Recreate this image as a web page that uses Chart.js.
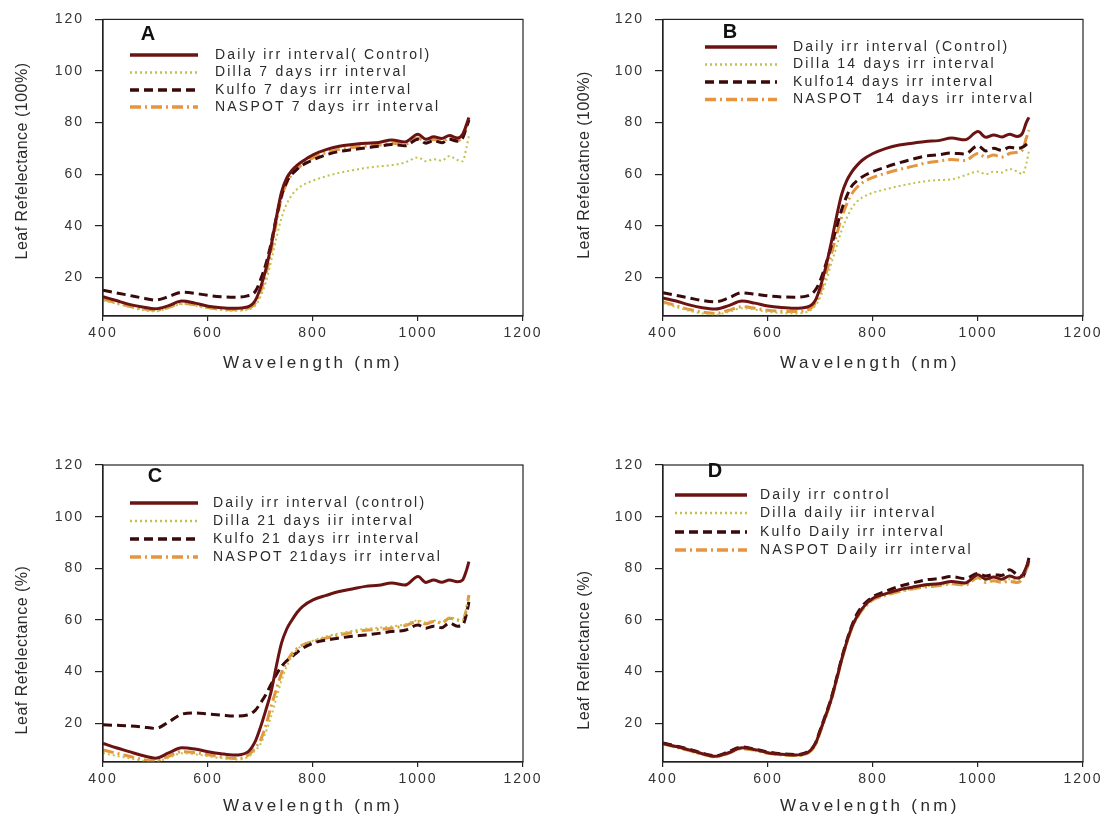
<!DOCTYPE html>
<html>
<head>
<meta charset="utf-8">
<title>Leaf reflectance spectra</title>
<script src="https://cdn.jsdelivr.net/npm/chart.js@4.4.1/dist/chart.umd.min.js"></script>
<style>
  body { margin: 0; background: #fff; }
  #fig { position: relative; width: 1113px; height: 818px; overflow: hidden; background: #fff; }
  #fig canvas { position: absolute; }
</style>
</head>
<body>
<div id="fig">
  <canvas id="chartA" width="556" height="400" style="left:0;top:0"></canvas>
  <canvas id="chartB" width="557" height="400" style="left:556px;top:0"></canvas>
  <canvas id="chartC" width="556" height="378" style="left:0;top:440px"></canvas>
  <canvas id="chartD" width="557" height="378" style="left:556px;top:440px"></canvas>
</div>
<script>
const FONT = '"Liberation Sans", Arial, sans-serif';

// wavelength grid (nm) shared by every spectrum
const wavelengths = [400, 425, 450, 475, 500, 525, 550, 575, 600, 625, 650, 675, 690, 700, 710, 720, 730, 740, 750, 760,
  770, 780, 800, 825, 850, 875, 900, 925, 950, 975, 1000, 1015, 1030, 1045, 1060, 1075, 1085, 1092, 1097];

const xTicks = [400, 600, 800, 1000, 1200];
const yTicks = [20, 40, 60, 80, 100, 120];

// A - 7 days irrigation interval
const labelsA = ['Daily irr interval( Control)', 'Dilla 7 days irr interval', 'Kulfo 7 days irr interval', 'NASPOT 7 days irr interval'];
const controlA = [12.5, 11, 9.5, 8.5, 7.8, 9, 10.8, 10, 8.8, 8.2, 8, 8.5, 11, 16, 23, 32, 43, 53, 58.5, 61.5,
  63.5, 65, 67.5, 69.5, 70.8, 71.5, 72, 72.3, 73.2, 72.5, 75.5, 73.5, 74.5, 73.8, 75, 74, 75.5, 79, 82];
const dillaA = [11, 9.8, 8.5, 7.3, 6.8, 8, 9.6, 9, 8, 7.3, 7, 7.4, 9, 12.5, 18, 26, 35, 43, 48.5, 52,
  54.2, 55.7, 57.5, 59.2, 60.5, 61.5, 62.4, 63, 63.5, 64.5, 66.5, 65, 65.8, 65.2, 67, 65.5, 65, 70, 75];
const kulfoA = [15, 14, 13, 12, 11.2, 12.5, 14.2, 13.8, 13, 12.5, 12.3, 12.8, 14.5, 19, 25, 33, 43, 51.5, 57, 60,
  62, 63.5, 65.5, 67.5, 68.8, 69.5, 70.2, 70.8, 71.5, 71, 73.5, 72, 73, 72.2, 73.5, 72.8, 74, 78, 81];
const naspotA = [11.5, 10.2, 8.8, 7.8, 7.2, 8.4, 10, 9.4, 8.3, 7.6, 7.4, 7.9, 10, 14.5, 21, 30, 41, 51, 56.5, 60,
  62, 63.8, 66.3, 68.3, 69.6, 70.3, 70.9, 71.2, 72, 71.6, 74, 72.4, 73.4, 72.6, 74, 73, 74.5, 78.5, 81];

// B - 14 days irrigation interval
const labelsB = ['Daily irr interval (Control)', 'Dilla 14 days irr interval', 'Kulfo14 days irr interval', 'NASPOT  14 days irr interval'];
const controlB = [12, 10.8, 9.3, 8.2, 7.7, 9, 10.8, 10, 8.9, 8.3, 8, 8.5, 11, 16.5, 24, 33, 43, 52, 57.5, 61,
  63.5, 65.5, 68, 70, 71.3, 72, 72.7, 73, 74, 73.3, 76.5, 74.3, 75.2, 74.4, 75.5, 74.6, 76, 80, 82];
const dillaB = [10, 8.5, 7, 6, 5.5, 6.6, 8, 7.5, 6.6, 6.2, 6, 6.6, 9, 12.5, 18, 25, 31.5, 38, 43, 47,
  49.5, 51, 52.8, 54.2, 55.4, 56.4, 57.3, 57.7, 58, 59.5, 61, 60, 61, 60.6, 62, 61, 60, 64, 69];
const kulfoB = [14, 13, 12, 11, 10.5, 12, 14, 13.5, 12.8, 12.4, 12.3, 12.8, 15, 19, 25, 31.7, 39, 46, 51.5, 55.5,
  57.5, 59, 61, 62.8, 64.4, 65.8, 67, 67.5, 68.2, 67.8, 71, 69, 70, 69.2, 70.4, 70, 70.5, 71.5, 72.5];
const naspotB = [10.5, 9, 7.5, 6.5, 6, 7.2, 8.6, 8, 7.2, 6.8, 6.7, 7.3, 10, 14.5, 21, 28.5, 36, 43, 48.5, 52.5,
  55, 56.7, 58.7, 60.4, 61.8, 63, 64.3, 65, 65.7, 65.3, 68, 66.5, 67.4, 66.6, 68, 68.5, 69.5, 74, 77];

// C - 21 days irrigation interval
const labelsC = ['Daily irr interval (control)', 'Dilla 21 days iir interval', 'Kulfo 21 days irr interval', 'NASPOT 21days irr interval'];
const controlC = [12.2, 10.5, 9, 7.5, 6.5, 8.5, 10.5, 10, 9, 8.2, 7.7, 8.8, 13, 18.5, 25, 32, 42, 51, 56.5, 60,
  63, 65.2, 67.8, 69.5, 71, 72, 73, 73.4, 74.3, 73.5, 76.8, 74.5, 75.5, 74.6, 75.5, 74.8, 75.5, 79, 82.6];
const dillaC = [8.5, 7.4, 6.4, 5.5, 5.2, 6.6, 8.4, 8, 7.2, 6.5, 6, 6.8, 9.5, 12, 16.5, 22.5, 29.5, 36.5, 42, 46,
  48.6, 50.2, 52, 53.6, 54.8, 55.8, 56.6, 57, 57.5, 58.3, 59.8, 59, 59.8, 59.2, 61, 60.3, 60, 64.5, 68.5];
const kulfoC = [19.4, 19.2, 19, 18.6, 18, 20.5, 23.5, 24, 23.6, 23.2, 22.8, 23.2, 25, 27.8, 31, 35, 38.8, 42, 44.2, 45.8,
  47.5, 49, 51, 52.2, 53, 53.7, 54.2, 54.8, 55.5, 56, 58, 56.8, 57.6, 57, 58.8, 57.6, 58, 62, 67];
const naspotC = [9.7, 8.4, 7.2, 6, 5.4, 7.2, 9, 8.6, 7.8, 7, 6.4, 7.4, 10.5, 13.5, 19, 26.4, 33, 39.4, 43.8, 47,
  49, 50.3, 51.6, 53, 54.2, 55.2, 56, 56.4, 56.8, 57.8, 59.4, 58.5, 59.4, 58.8, 60.7, 60, 59.4, 64, 69.7];

// D - daily irrigation
const labelsD = ['Daily irr control', 'Dilla daily iir interval', 'Kulfo Daily irr interval', 'NASPOT Daily irr interval'];
const controlD = [12.2, 11, 9.7, 8.2, 7.2, 8.6, 10.5, 9.8, 8.6, 8, 7.7, 8.6, 12, 17.4, 23, 29, 36.5, 44.5, 51.5, 57.4,
  61.5, 64.6, 68.4, 70.2, 71.7, 72.7, 73.6, 74, 74.9, 74.3, 77.5, 75.8, 76.6, 75.8, 77, 76.2, 77.5, 80.5, 83];
const dillaD = [11.8, 10.5, 9.2, 7.8, 6.8, 8.2, 10, 9.3, 8.2, 7.6, 7.3, 8.1, 11.2, 16.4, 22, 28, 35.5, 43.5, 50.5, 56.5,
  60.6, 63.7, 67.6, 69.5, 71, 72, 73, 73.4, 74.2, 73.7, 76.6, 75, 75.8, 75, 75.8, 75.4, 76.5, 80, 82.5];
const kulfoD = [12.4, 11.2, 10, 8.4, 7.4, 9, 10.8, 10, 8.9, 8.2, 7.9, 8.8, 12.2, 17.8, 23.5, 29.5, 37, 45, 52, 58,
  62.5, 65.5, 69, 71.2, 73, 74.3, 75.5, 76, 76.8, 76, 78, 77, 77.6, 77.2, 79.4, 77.5, 76.8, 80, 84];
const naspotD = [12, 10.7, 9.4, 8, 7, 8.4, 10.2, 9.5, 8.4, 7.8, 7.5, 8.3, 11.5, 16.8, 22.5, 28.5, 36, 44, 51, 57,
  61, 64, 67.8, 69.6, 71, 72, 72.8, 73.2, 74, 73.5, 76.3, 74.5, 75.2, 74.6, 74.9, 74.5, 76, 79.5, 82];

// line look per treatment: control, Dilla, Kulfo, NASPOT
const lineStyles = [
  { color: '#6b1313', width: 3, dash: [] },
  { color: '#c0c24c', width: 2, dash: [2, 3] },
  { color: '#3a0909', width: 3, dash: [9, 5] },
  { color: '#e5953f', width: 3, dash: [11, 4, 2, 4] }
];

// draws the box frame, panel letter, legend and axis titles
const decor = {
  id: 'decor',
  beforeDraw(chart) {
    chart.ctx.letterSpacing = '2px';
  },
  afterDraw(chart, args, o) {
    const ctx = chart.ctx;
    const a = chart.chartArea;
    ctx.save();
    ctx.strokeStyle = '#222';
    ctx.lineWidth = 1.2;
    ctx.setLineDash([]);
    ctx.strokeRect(a.left, a.top, a.right - a.left, a.bottom - a.top);

    ctx.fillStyle = '#111';
    ctx.textAlign = 'center';
    ctx.textBaseline = 'middle';
    ctx.letterSpacing = '0px';
    ctx.font = 'bold 20px ' + FONT;
    ctx.fillText(o.letter, o.letterAt[0], o.letterAt[1]);

    ctx.font = '14px ' + FONT;
    ctx.letterSpacing = '2.2px';
    ctx.textAlign = 'left';
    chart.data.datasets.forEach((ds, i) => {
      const y = o.rows[i];
      ctx.beginPath();
      ctx.setLineDash(ds.borderDash);
      ctx.strokeStyle = ds.borderColor;
      ctx.lineWidth = ds.borderWidth + 0.5;
      ctx.moveTo(o.sample[0], y);
      ctx.lineTo(o.sample[1], y);
      ctx.stroke();
      ctx.fillStyle = '#2b2b2b';
      ctx.fillText(ds.label, o.textX, y);
    });
    ctx.setLineDash([]);

    ctx.fillStyle = '#2b2b2b';
    ctx.textAlign = 'center';
    ctx.font = '17px ' + FONT;
    ctx.letterSpacing = '3.4px';
    ctx.fillText('Wavelength (nm)', o.xTitleAt[0], o.xTitleAt[1]);

    ctx.translate(o.yTitleAt[0], o.yTitleAt[1]);
    ctx.rotate(-Math.PI / 2);
    ctx.font = '16px ' + FONT;
    ctx.letterSpacing = '0.5px';
    ctx.fillText(o.yTitle, 0, 0);
    ctx.restore();
  }
};

function makePanel(id, labels, series, yWidth, xHeight, pad, deco) {
  const datasets = series.map((vals, i) => ({
    label: labels[i],
    data: wavelengths.map((w, k) => ({ x: w, y: vals[k] })),
    borderColor: lineStyles[i].color,
    borderWidth: lineStyles[i].width,
    borderDash: lineStyles[i].dash,
    pointRadius: 0,
    fill: false,
    cubicInterpolationMode: 'monotone'
  }));

  new Chart(document.getElementById(id).getContext('2d'), {
    type: 'line',
    data: { datasets },
    plugins: [decor],
    options: {
      responsive: false,
      animation: false,
      devicePixelRatio: 1,
      layout: { padding: pad },
      plugins: {
        legend: { display: false },
        tooltip: { enabled: false },
        decor: deco
      },
      scales: {
        x: {
          type: 'linear',
          min: 400,
          max: 1200,
          afterBuildTicks: s => { s.ticks = xTicks.map(v => ({ value: v })); },
          afterFit: s => { s.height = xHeight; },
          grid: { drawOnChartArea: false, tickLength: 5, color: '#222', lineWidth: 1.2 },
          border: { color: '#222', width: 1.2 },
          ticks: { color: '#333', font: { size: 14 }, padding: 4, maxRotation: 0, callback: v => String(v) }
        },
        y: {
          min: 5,
          max: 120,
          afterBuildTicks: s => { s.ticks = yTicks.map(v => ({ value: v })); },
          afterFit: s => { s.width = yWidth; },
          grid: { drawOnChartArea: false, tickLength: 8, color: '#222', lineWidth: 1.2 },
          border: { color: '#222', width: 1.2 },
          ticks: { color: '#333', font: { size: 14 }, padding: 11, callback: v => String(v) }
        }
      }
    }
  });
}

Chart.defaults.font.family = FONT;

makePanel('chartA', labelsA, [controlA, dillaA, kulfoA, naspotA], 103, 84, { top: 17, right: 33 }, {
  letter: 'A', letterAt: [148, 34],
  sample: [130, 198], textX: 215, rows: [55, 72.5, 90, 107],
  xTitleAt: [313, 363], yTitleAt: [23, 161], yTitle: 'Leaf Refelectance (100%)'
});

makePanel('chartB', labelsB, [controlB, dillaB, kulfoB, naspotB], 107, 84, { top: 17, right: 30 }, {
  letter: 'B', letterAt: [174, 32],
  sample: [149, 221], textX: 237, rows: [47, 64.5, 82, 99.5],
  xTitleAt: [314, 363], yTitleAt: [29, 165], yTitle: 'Leaf Refelcatnce (100%)'
});

makePanel('chartC', labelsC, [controlC, dillaC, kulfoC, naspotC], 103, 56, { top: 25, right: 33 }, {
  letter: 'C', letterAt: [155, 36],
  sample: [130, 198], textX: 213, rows: [63, 81, 99, 117],
  xTitleAt: [313, 366], yTitleAt: [23, 210], yTitle: 'Leaf Refelectance (%)'
});

makePanel('chartD', labelsD, [controlD, dillaD, kulfoD, naspotD], 107, 56, { top: 25, right: 30 }, {
  letter: 'D', letterAt: [159, 31],
  sample: [119, 191], textX: 204, rows: [55, 73, 92, 110],
  xTitleAt: [314, 366], yTitleAt: [29, 210], yTitle: 'Leaf Reflectance (%)'
});
</script>
</body>
</html>
